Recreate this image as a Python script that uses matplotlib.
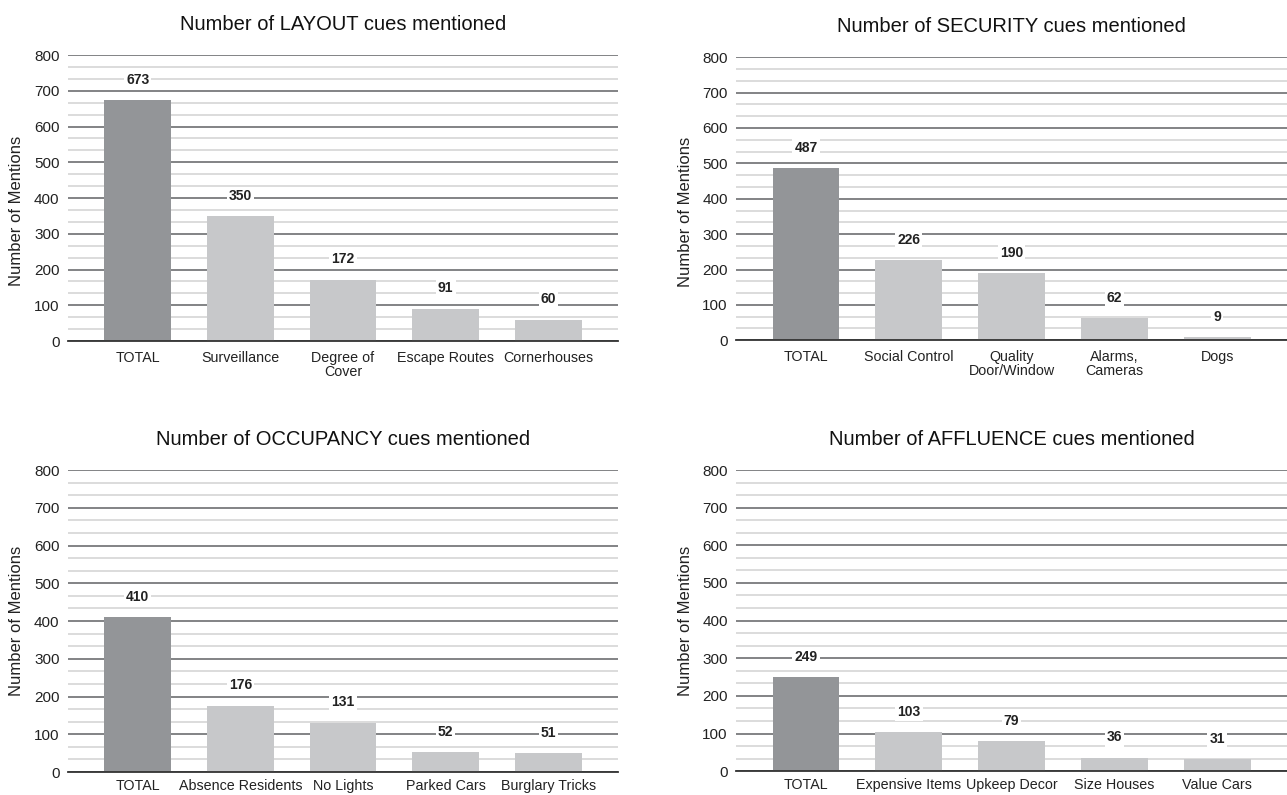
import matplotlib.pyplot as plt
from matplotlib.ticker import MultipleLocator

plt.rcParams['font.family'] = ['Liberation Sans', 'DejaVu Sans']

# data
layout_cats = ['TOTAL', 'Surveillance', 'Degree of\nCover', 'Escape Routes', 'Cornerhouses']
layout_vals = [673, 350, 172, 91, 60]

security_cats = ['TOTAL', 'Social Control', 'Quality\nDoor/Window', 'Alarms,\nCameras', 'Dogs']
security_vals = [487, 226, 190, 62, 9]

occupancy_cats = ['TOTAL', 'Absence Residents', 'No Lights', 'Parked Cars', 'Burglary Tricks']
occupancy_vals = [410, 176, 131, 52, 51]

affluence_cats = ['TOTAL', 'Expensive Items', 'Upkeep Decor', 'Size Houses', 'Value Cars']
affluence_vals = [249, 103, 79, 36, 31]

titles = ['Number of LAYOUT cues mentioned', 'Number of SECURITY cues mentioned',
          'Number of OCCUPANCY cues mentioned', 'Number of AFFLUENCE cues mentioned']

# axes rect, ylabel position, x tick pad
panels = [
    (layout_cats, layout_vals, [0.0528, 0.571, 0.4275, 0.3597], 0.455, 7),
    (security_cats, security_vals, [0.572, 0.572, 0.428, 0.356], 0.455, 7),
    (occupancy_cats, occupancy_vals, [0.0528, 0.0289, 0.4275, 0.3799], 0.5, 5),
    (affluence_cats, affluence_vals, [0.572, 0.030, 0.428, 0.3788], 0.5, 5),
]

dark = '#939598'
light = '#c7c8ca'

fig = plt.figure(figsize=(12.87, 7.95), dpi=100)

for (cats, vals, pos, ylab_y, xpad), title in zip(panels, titles):
    ax = fig.add_axes(pos)
    x = range(len(cats))
    colors = [dark] + [light] * (len(cats) - 1)
    ax.bar(x, vals, width=0.65, color=colors, linewidth=0, zorder=3)
    for xi, v in zip(x, vals):
        ax.annotate(str(v), (xi, v), xytext=(0, 14.5), textcoords='offset points',
                    ha='center', va='center', fontsize=10, fontweight='bold', color='#222222',
                    bbox=dict(boxstyle='square,pad=0.15', fc='white', ec='none'), zorder=4)

    ax.set_ylim(0, 800)
    ax.set_xlim(-0.68, len(cats) - 0.32)
    ax.yaxis.set_major_locator(MultipleLocator(100))
    ax.yaxis.set_minor_locator(MultipleLocator(100 / 3))
    ax.grid(axis='y', which='major', color='#6d6e71', linewidth=1.2, zorder=1)
    ax.grid(axis='y', which='minor', color='#dcdcdc', linewidth=1.4, zorder=0)
    ax.set_axisbelow(True)

    for s in ['top', 'right', 'left']:
        ax.spines[s].set_visible(False)
    ax.spines['bottom'].set_color('#333333')
    ax.spines['bottom'].set_linewidth(1.3)
    ax.spines['bottom'].set_zorder(5)

    ax.set_xticks(list(x))
    ax.set_xticklabels(cats, fontsize=10.3, color='#222222', linespacing=1.0)
    ax.tick_params(axis='x', length=0, pad=xpad)
    ax.tick_params(axis='y', which='both', length=0, labelsize=11, labelcolor='#222222', pad=6)

    ax.set_ylabel('Number of Mentions', fontsize=12, color='#222222', labelpad=7, y=ylab_y)
    ax.set_title(title, fontsize=14.5, color='#111111', pad=18)

fig.savefig('out.png', dpi=100, facecolor='white')
